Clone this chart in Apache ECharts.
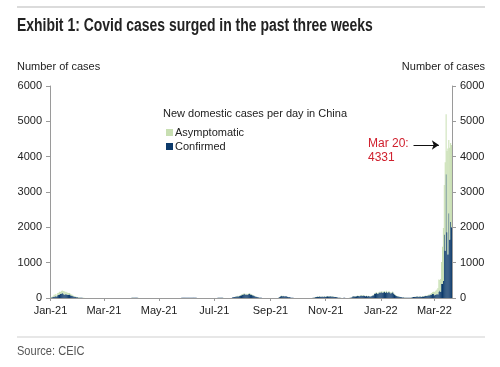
<!DOCTYPE html>
<html>
<head>
<meta charset="utf-8">
<script src="https://cdn.jsdelivr.net/npm/echarts@6/dist/echarts.min.js"></script>
<style>html,body{margin:0;padding:0;background:#fff}#c{width:500px;height:367px}</style>
</head>
<body>
<div id="c"></div>
<script>
// Daily new domestic cases, 1 Jan 2021 .. 20 Mar 2022 (one row per month)
var confirmed = [
  10,15,20,30,30,50,50,40,80,90,100,110,120,140,120,100,90,110,100,90,90,100,80,70,60,50,40,30,30,20,20,
  10,8,6,5,4,3,3,2,2,1,1,0,0,0,0,0,0,0,0,0,0,0,0,0,0,0,0,0,
  0,0,0,0,0,0,0,0,0,0,0,0,0,0,0,0,0,0,0,0,0,0,0,0,0,0,0,0,0,0,2,
  7,9,10,5,8,5,4,3,2,2,2,1,1,1,1,0,0,0,0,0,0,0,0,0,0,0,0,0,0,0,
  0,0,0,0,0,0,0,0,0,0,0,0,0,2,2,0,0,0,0,1,1,1,2,2,3,5,6,4,6,8,9,
  8,6,5,4,6,8,9,8,6,5,4,3,3,2,1,1,0,0,1,2,1,0,0,0,0,0,0,0,0,0,
  0,0,0,2,4,6,8,6,5,4,3,2,2,1,1,1,0,0,0,1,12,20,25,30,40,45,50,40,60,70,80,
  90,100,110,100,90,100,95,110,120,100,90,80,70,60,40,35,30,20,15,10,8,5,3,2,1,2,1,1,0,0,0,
  0,0,0,0,0,0,0,0,0,10,20,40,60,50,60,50,40,50,40,30,20,20,15,10,8,6,3,2,1,0,
  0,0,0,0,0,0,0,0,0,0,0,0,0,0,0,0,0,5,10,15,25,30,35,30,40,35,30,40,30,35,40,
  30,40,50,45,40,50,40,35,40,30,30,25,20,15,10,8,5,3,2,3,5,4,3,3,2,2,3,5,10,20,
  40,50,45,40,50,60,55,50,60,70,65,60,70,55,50,60,45,55,50,40,45,55,70,80,120,130,140,120,130,150,160,
  150,170,140,160,170,150,180,140,160,170,150,130,140,160,130,100,80,60,50,40,35,30,25,20,15,15,10,10,8,5,5,
  5,5,10,15,20,25,30,30,35,40,35,30,40,35,30,40,45,50,60,55,60,70,80,75,90,100,110,120,
  80,90,100,110,100,175,210,175,400,400,480,1800,1340,3500,1860,1230,2400,1650,2150,2000
];
var asymptomatic = [
  10,10,15,30,60,40,60,30,60,60,80,60,80,70,80,100,80,70,60,60,50,40,40,30,30,20,20,20,15,10,10,
  8,6,5,4,3,2,2,1,1,1,0,0,0,0,0,0,0,0,0,0,0,0,0,0,0,0,0,0,
  0,0,0,0,0,0,0,0,0,0,0,0,0,0,0,0,0,0,0,0,0,0,0,0,0,0,0,0,0,0,0,
  3,4,5,3,2,2,1,1,1,0,0,0,0,0,0,0,0,0,0,0,0,0,0,0,0,0,0,0,0,0,
  0,0,0,0,0,0,0,0,0,0,0,0,0,0,0,0,0,0,0,0,0,0,0,0,0,0,0,0,0,0,0,
  2,2,1,1,2,2,1,1,1,0,0,0,0,0,0,0,0,0,0,0,0,0,0,0,0,0,0,0,0,0,
  0,0,0,1,2,2,3,2,2,1,1,1,0,0,0,0,0,0,0,0,2,4,5,6,8,10,12,10,14,15,18,
  20,22,25,20,18,20,15,18,20,16,14,12,10,8,6,5,4,3,2,2,1,1,0,0,0,0,0,0,0,0,0,
  0,0,0,0,0,0,0,0,0,2,4,6,8,6,5,4,3,3,2,2,1,1,1,0,0,0,0,0,0,0,
  0,0,0,0,0,0,0,0,0,0,0,0,0,0,0,0,0,1,2,3,4,5,6,5,6,5,4,5,4,5,6,
  5,6,8,7,6,8,6,5,6,4,4,3,3,2,2,1,1,1,0,0,1,1,0,0,0,0,1,1,2,3,
  6,8,7,6,8,10,9,8,10,12,10,9,12,8,8,10,7,8,8,6,7,8,10,12,15,18,20,18,20,22,24,
  22,25,20,24,25,22,28,20,24,25,22,20,22,24,20,15,12,10,8,6,5,5,4,3,3,2,2,2,1,1,1,
  1,1,2,3,4,5,6,6,7,8,7,6,8,7,6,8,9,10,12,11,12,14,20,25,30,40,50,60,
  90,100,120,130,180,350,300,360,620,1050,1500,1400,2500,1700,2300,3000,2070,2600,2240,2331
];
var startDate = '2021-01-01';
var tickDates = ['2021-01-01','2021-03-01','2021-05-01','2021-07-01','2021-09-01','2021-11-01','2022-01-01','2022-03-01'];
var tickLabels = ['Jan-21','Mar-21','May-21','Jul-21','Sep-21','Nov-21','Jan-22','Mar-22'];
var yTicks = [0,1000,2000,3000,4000,5000,6000];
var annotation = {date: '2022-03-20', value: 4331, arrowFrom: '2022-02-06', arrowTo: '2022-03-06'};

// build daily category list
var days = [];
var t0 = Date.parse(startDate + 'T00:00:00Z');
for (var i = 0; i < confirmed.length; i++) {
  days.push(new Date(t0 + i * 86400000).toISOString().slice(0, 10));
}
function isTick(idx, val) { return tickDates.indexOf(val) >= 0; }

var chart = echarts.init(document.getElementById('c'), null, {renderer: 'canvas'});
var axisCol = '#9a9a9a';
var txtCol = '#222';
var font = 'Liberation Sans, Arial, sans-serif';
function yAxisCfg(pos) {
  return {
    type: 'value', position: pos, min: yTicks[0], max: yTicks[yTicks.length - 1], interval: 1000,
    axisLine: {show: true, lineStyle: {color: axisCol, width: 1}},
    axisTick: {show: true, length: 4, lineStyle: {color: axisCol}},
    splitLine: {show: false},
    axisLabel: {color: txtCol, fontSize: 11, fontFamily: font, margin: 8, formatter: function (v) { return String(v); }}
  };
}
chart.setOption({
  animation: false,
  grid: {left: 50, right: 48, top: 86, bottom: 69},
  legend: {
    data: ['Asymptomatic', 'Confirmed'], orient: 'vertical', left: 161, top: 122,
    itemWidth: 7, itemHeight: 7, itemGap: 3, icon: 'rect',
    textStyle: {color: txtCol, fontSize: 11, fontFamily: font, padding: [0, 0, 0, -3]}
  },
  xAxis: {
    type: 'category', data: days, boundaryGap: true,
    axisLine: {lineStyle: {color: axisCol}},
    axisTick: {show: true, interval: isTick, alignWithLabel: true, length: 3, lineStyle: {color: axisCol}},
    axisLabel: {
      interval: isTick, color: txtCol, fontSize: 11, fontFamily: font, margin: 7,
      formatter: function (v) { var k = tickDates.indexOf(v); return k >= 0 ? tickLabels[k] : ''; }
    }
  },
  yAxis: [yAxisCfg('left'), yAxisCfg('right')],
  series: [
    {
      name: 'Confirmed', type: 'bar', stack: 'cases', data: confirmed, barCategoryGap: '0%',
      itemStyle: {color: '#0c3a6b'},
      markLine: {
        silent: true, symbol: ['none', 'arrow'], symbolSize: 7,
        lineStyle: {color: '#111', width: 1, type: 'solid'}, label: {show: false},
        data: [[{coord: [annotation.arrowFrom, annotation.value]}, {coord: [annotation.arrowTo, annotation.value]}]]
      }
    },
    {
      name: 'Asymptomatic', type: 'bar', stack: 'cases', data: asymptomatic, barCategoryGap: '0%',
      itemStyle: {color: '#c8dfb2'}
    }
  ],
  graphic: [
    {type: 'line', shape: {x1: 17, y1: 7, x2: 485, y2: 7}, style: {stroke: '#cfcfcf', lineWidth: 1.5}},
    {type: 'text', x: 17, y: 17, scaleX: 0.775, style: {text: 'Exhibit 1: Covid cases surged in the past three weeks', fill: '#222', font: 'bold 18px "Liberation Sans", Arial, sans-serif'}},
    {type: 'text', left: 17, top: 61, style: {text: 'Number of cases', fill: txtCol, font: '11px ' + font}},
    {type: 'text', right: 15, top: 61, style: {text: 'Number of cases', fill: txtCol, font: '11px ' + font, textAlign: 'right'}},
    {type: 'text', left: 163, top: 108, style: {text: 'New domestic cases per day in China', fill: txtCol, font: '11px ' + font}},
    {type: 'text', left: 368, top: 137, style: {text: 'Mar 20:\n4331', fill: '#d0202e', font: '12px ' + font, lineHeight: 14}},
    {type: 'line', shape: {x1: 17, y1: 337, x2: 485, y2: 337}, style: {stroke: '#cfcfcf', lineWidth: 1}},
    {type: 'text', x: 17, y: 345, scaleX: 0.85, style: {text: 'Source: CEIC', fill: '#555', font: '13px "Liberation Sans", Arial, sans-serif'}}
  ]
});
</script>
</body>
</html>
